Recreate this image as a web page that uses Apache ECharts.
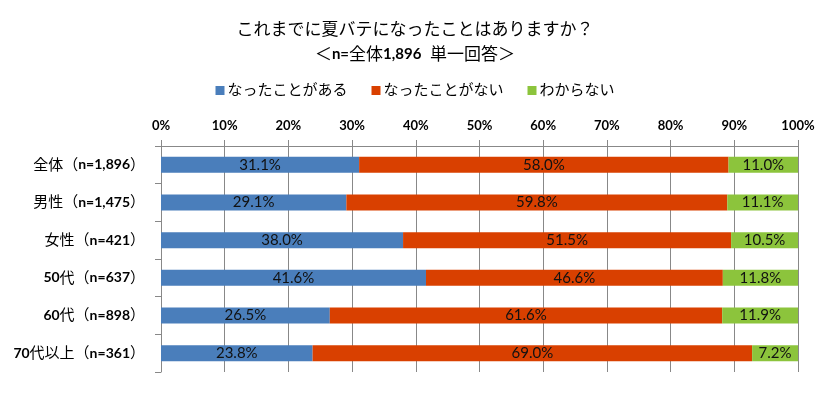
<!DOCTYPE html>
<html>
<head>
<meta charset="utf-8">
<script src="https://cdn.jsdelivr.net/npm/echarts@6/dist/echarts.min.js"></script>
<style>
  html, body { margin: 0; padding: 0; background: #fff; }
  #chart { width: 830px; height: 396px; }
</style>
</head>
<body>
<div id="chart"></div>
<script>
const categories = ['全体（n=1,896）', '男性（n=1,475）', '女性（n=421）', '50代（n=637）', '60代（n=898）', '70代以上（n=361）'];
const seriesNames = ['なったことがある', 'なったことがない', 'わからない'];
const hadIt = [31.1, 29.1, 38.0, 41.6, 26.5, 23.8];
const neverHad = [58.0, 59.8, 51.5, 46.6, 61.6, 69.0];
const dontKnow = [11.0, 11.1, 10.5, 11.8, 11.9, 7.2];
const colors = ['#4a7ebb', '#d94000', '#8cc43c'];

const FONT = 'Lato, "Noto Sans CJK JP", sans-serif';
const chart = echarts.init(document.getElementById('chart'));

function makeSeries(name, data, color) {
  return {
    name: name,
    type: 'bar',
    stack: 'total',
    barWidth: 16,
    data: data,
    itemStyle: { color: color },
    label: {
      show: true,
      position: 'inside',
      color: '#111',
      fontFamily: FONT,
      fontSize: 15,
      formatter: p => p.value.toFixed(1) + '%'
    }
  };
}

chart.setOption({
  animation: false,
  title: {
    text: 'これまでに夏バテになったことはありますか？\n{s|＜}{b|n=}{s|全体}{b|1,896}{s|  単一回答＞}',
    left: 'center',
    top: 12,
    textStyle: {
      fontFamily: FONT,
      fontSize: 17,
      fontWeight: 'normal',
      color: '#000',
      lineHeight: 25,
      rich: {
        s: { fontFamily: FONT, fontSize: 17, color: '#000', lineHeight: 25 },
        b: { fontFamily: FONT, fontSize: 15, fontWeight: 'bold', color: '#000', lineHeight: 25 }
      }
    }
  },
  legend: {
    top: 78,
    left: 'center',
    itemWidth: 9,
    itemHeight: 9,
    itemGap: 24,
    icon: 'rect',
    textStyle: { fontFamily: FONT, fontSize: 15, color: '#000', padding: [0, 0, 0, -2] },
    data: seriesNames
  },
  grid: { left: 161, right: 32, top: 146, bottom: 24 },
  xAxis: {
    type: 'value',
    position: 'top',
    min: 0,
    max: 100,
    interval: 10,
    axisLine: { show: true, lineStyle: { color: '#888' } },
    axisTick: { show: true, length: 6, lineStyle: { color: '#888' } },
    axisLabel: {
      formatter: '{value}%',
      fontFamily: FONT,
      fontSize: 13,
      fontWeight: 'bold',
      color: '#000',
      margin: 14
    },
    splitLine: { show: true, lineStyle: { color: '#888' } }
  },
  yAxis: {
    type: 'category',
    inverse: true,
    data: categories,
    axisLine: { show: true, lineStyle: { color: '#888' } },
    axisTick: { show: true, length: 6, lineStyle: { color: '#888' } },
    axisLabel: {
      margin: 16,
      fontFamily: FONT,
      fontSize: 15,
      color: '#000',
      formatter: v => v.replace(/([\x21-\x7e]+)/g, '{b|$1}'),
      rich: {
        b: { fontFamily: FONT, fontSize: 14, fontWeight: 'bold', color: '#000' }
      }
    }
  },
  series: [
    makeSeries(seriesNames[0], hadIt, colors[0]),
    makeSeries(seriesNames[1], neverHad, colors[1]),
    makeSeries(seriesNames[2], dontKnow, colors[2])
  ]
});
</script>
</body>
</html>
